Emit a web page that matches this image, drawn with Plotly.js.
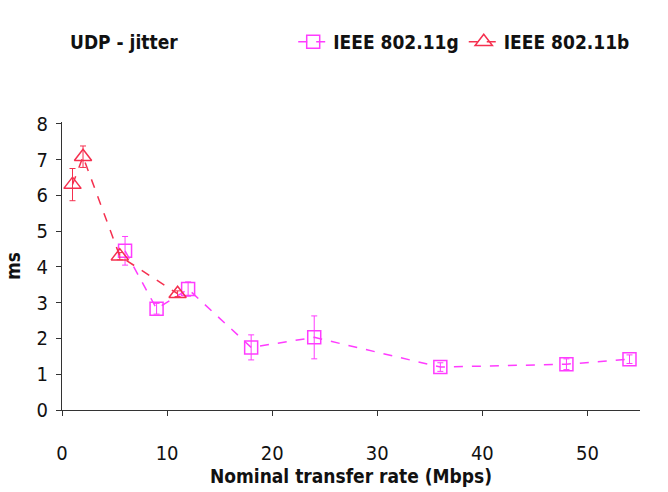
<!DOCTYPE html>
<html><head><meta charset="utf-8">
<script src="https://cdn.plot.ly/plotly-3.0.1.min.js"></script>
<style>body{margin:0;background:#fff}#c{width:668px;height:492px}</style>
</head><body><div id="c"></div>
<script>
const gRate = [6, 9, 12, 18, 24, 36, 48, 54];
const gJitter = [4.45, 2.83, 3.38, 1.75, 2.03, 1.2, 1.28, 1.42];
const gErr = [0.4, 0.15, 0.2, 0.35, 0.6, 0.12, 0.15, 0.12];
const bRate = [1, 2, 5.5, 11];
const bJitter = [6.3, 7.08, 4.3, 3.25];
const bErr = [0.45, 0.3, 0.1, 0.08];
const fnt = "'Liberation Sans Narrow', 'Arial Narrow', 'DejaVu Sans Condensed', 'Liberation Sans', sans-serif";
const gCol = '#ff3cff', bCol = '#f5304f';
const traces = [
 {x:gRate, y:gJitter, name:'IEEE 802.11g', type:'scatter', mode:'lines+markers',
  line:{color:gCol, dash:'dash', width:1.5},
  marker:{symbol:'square-open', size:13, color:gCol, line:{width:1.5}},
  error_y:{type:'data', array:gErr, visible:true, color:gCol, thickness:1, width:3},
  cliponaxis:false},
 {x:bRate, y:bJitter, name:'IEEE 802.11b', type:'scatter', mode:'lines+markers',
  line:{color:bCol, dash:'dash', width:1.5},
  marker:{symbol:'triangle-up-open', size:15, color:bCol, line:{width:1.5}},
  error_y:{type:'data', array:bErr, visible:true, color:bCol, thickness:1, width:3},
  cliponaxis:false}
];
const layout = {
 width:668, height:492, margin:{l:62, r:28, t:122, b:82},
 paper_bgcolor:'#fff', plot_bgcolor:'#fff', showlegend:true,
 font:{family:fnt, color:'#111', size:18},
 legend:{orientation:'h', x:0.4, y:1.278, xanchor:'left', yanchor:'middle',
   font:{family:fnt, size:19, weight:'bold', color:'#111'}, bgcolor:'rgba(0,0,0,0)', itemwidth:30, tracegroupgap:0},
 annotations:[{text:'<b>UDP - jitter</b>', xref:'paper', yref:'paper', x:0.01, y:1.278,
   xanchor:'left', yanchor:'middle', showarrow:false, font:{family:fnt, size:19, color:'#111'}}],
 xaxis:{range:[0,55], tickvals:[0,10,20,30,40,50], showline:true, linecolor:'#333', linewidth:1.3,
   ticks:'outside', ticklen:5, tickcolor:'#333', showgrid:false, zeroline:false,
   tickfont:{family:fnt, size:20}, ticklabelstandoff:20,
   title:{text:'<b>Nominal transfer rate (Mbps)</b>', font:{family:fnt, size:19}, standoff:2}},
 yaxis:{range:[0,8.05], tickvals:[0,1,2,3,4,5,6,7,8], showline:true, linecolor:'#333', linewidth:1.3,
   ticks:'outside', ticklen:5, tickcolor:'#333', showgrid:false, zeroline:false,
   tickfont:{family:fnt, size:20}, ticklabelstandoff:4,
   title:{text:'<b>ms</b>', font:{family:fnt, size:19}, standoff:10}}
};
Plotly.newPlot('c', traces, layout, {displayModeBar:false});
</script></body></html>
